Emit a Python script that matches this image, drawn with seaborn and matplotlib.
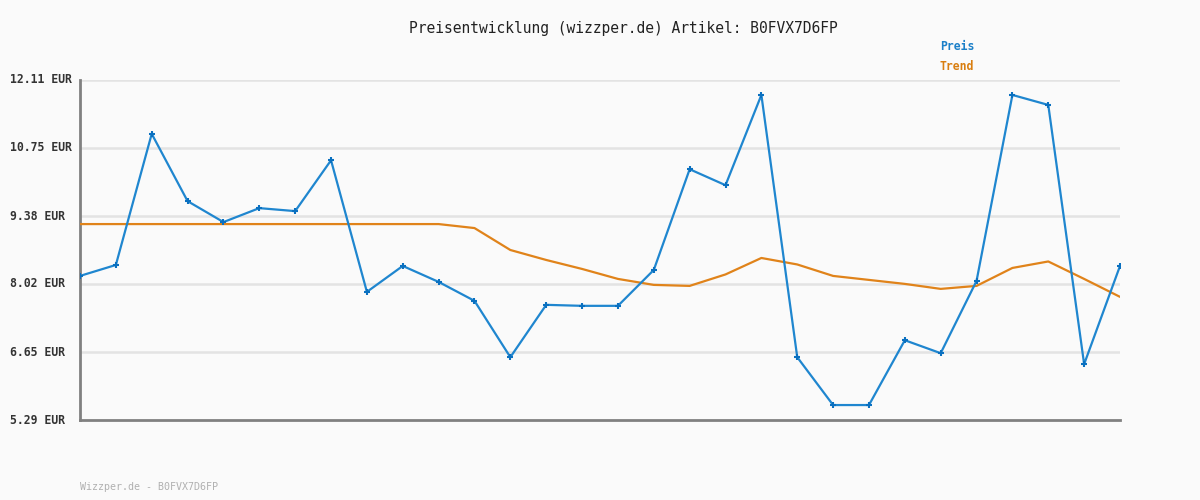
import matplotlib
matplotlib.use("Agg")
import matplotlib.pyplot as plt
import seaborn as sns
import numpy as np
import pandas as pd

# Data
preis = [8.18, 8.40, 11.03, 9.68, 9.26, 9.54, 9.48, 10.50, 7.86, 8.38,
         8.06, 7.68, 6.55, 7.60, 7.58, 7.58, 8.30, 10.32, 10.00, 11.81,
         6.55, 5.59, 5.59, 6.89, 6.63, 8.08, 11.81, 11.61, 6.41, 8.38]
trend = [9.22, 9.22, 9.22, 9.22, 9.22, 9.22, 9.22, 9.22, 9.22, 9.22,
         9.22, 9.14, 8.70, 8.50, 8.32, 8.12, 8.00, 7.98, 8.21, 8.54,
         8.41, 8.18, 8.10, 8.02, 7.92, 7.98, 8.34, 8.47, 8.12, 7.76]
ytick_vals = [5.29, 6.65, 8.02, 9.38, 10.75, 12.11]
ytick_labels = ["5.29 EUR", "6.65 EUR", "8.02 EUR", "9.38 EUR", "10.75 EUR", "12.11 EUR"]
title = "Preisentwicklung (wizzper.de) Artikel: B0FVX7D6FP"
footer = "Wizzper.de - B0FVX7D6FP"

BG = "#fafafa"
BLUE = "#1f86cf"
ORANGE = "#e0831a"
MONO = ["DejaVu Sans Mono"]

sns.set_theme(style="white")
plt.rcParams["font.family"] = MONO

df = pd.DataFrame({"idx": np.arange(len(preis)), "Preis": preis, "Trend": trend})

fig = plt.figure(figsize=(12, 5), dpi=100, facecolor=BG)
ax = fig.add_axes([80/1200, 1-420/500, 1040/1200, 340/500])
ax.set_facecolor(BG)

for v in ytick_vals[1:]:
    ax.axhline(v, color="#e3e3e3", lw=1.8, zorder=0)

sns.lineplot(data=df, x="idx", y="Trend", ax=ax, color=ORANGE, lw=1.6, zorder=3)
sns.lineplot(data=df, x="idx", y="Preis", ax=ax, color=BLUE, lw=1.6, zorder=4,
             marker="+", markersize=4.5, markeredgewidth=1.5, markeredgecolor="#0a70c0")

ax.set_xlim(0, len(preis) - 1)
ax.set_ylim(ytick_vals[0], ytick_vals[-1])
ax.set_xticks([])
ax.set_yticks(ytick_vals)
ax.set_yticklabels([])
ax.set_xlabel("")
ax.set_ylabel("")
ax.tick_params(length=0)
for s in ["top", "right"]:
    ax.spines[s].set_visible(False)
ax.spines["left"].set_color("#808080")
ax.spines["left"].set_linewidth(2)
ax.spines["bottom"].set_color("#808080")
ax.spines["bottom"].set_linewidth(2)

for v, lab in zip(ytick_vals, ytick_labels):
    ax.annotate(lab, xy=(0, v), xycoords=("figure fraction", "data"),
                xytext=(10, 0), textcoords="offset pixels",
                ha="left", va="center", fontsize=8.3, fontweight="bold",
                color="#333333", family=MONO)

fig.text(623/1200, 1-28/500, title, ha="center", va="center",
         fontsize=10.5, color="#222222", family=MONO)
fig.text(940/1200, 1-47/500, "Preis", ha="left", va="center",
         fontsize=8.3, fontweight="bold", color="#1a7fc8", family=MONO)
fig.text(940/1200, 1-67/500, "Trend", ha="left", va="center",
         fontsize=8.3, fontweight="bold", color="#d97e10", family=MONO)
fig.text(80/1200, 1-487/500, footer, ha="left", va="center",
         fontsize=7.2, color="#b0b0b0", family=MONO)

fig.savefig("out.png", dpi=100, facecolor=BG)
